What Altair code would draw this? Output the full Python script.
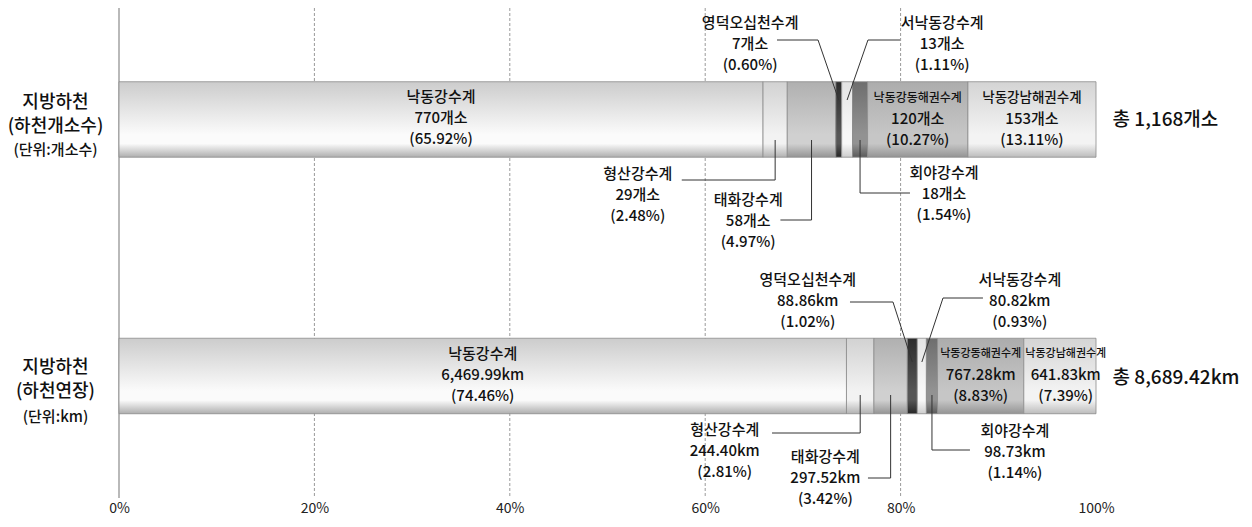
import altair as alt
import pandas as pd

# ---------------- data ----------------
rows = ["하천개소수", "하천연장"]
segments = ["낙동강수계", "형산강수계", "태화강수계", "영덕오십천수계",
            "서낙동강수계", "회야강수계", "낙동강동해권수계", "낙동강남해권수계"]
count_values = [770, 29, 58, 7, 13, 18, 120, 153]
count_pcts = [65.92, 2.48, 4.97, 0.60, 1.11, 1.54, 10.27, 13.11]
length_values = [6469.99, 244.40, 297.52, 88.86, 80.82, 98.73, 767.28, 641.83]
length_pcts = [74.46, 2.81, 3.42, 1.02, 0.93, 1.14, 8.83, 7.39]
total_labels = ["총 1,168개소", "총 8,689.42km"]
row_titles = [["지방하천", "(하천개소수)", "(단위:개소수)"],
              ["지방하천", "(하천연장)", "(단위:km)"]]
tick_values = [0, 20, 40, 60, 80, 100]
grid_values = [20, 40, 60, 80]

FONT = "Noto Sans CJK KR"
TXT = "#111111"
WEIGHT = 500
PLOT_H = 490
TOP = 8

# ---------------- styles / layout ----------------
seg_gradients = {
    "낙동강수계": ("#cccccc", "#fbfbfb", "#aeaeae"),
    "형산강수계": ("#d2d2d2", "#f2f2f2", "#b2b2b2"),
    "태화강수계": ("#b0b0b0", "#d0d0d0", "#949494"),
    "영덕오십천수계": ("#2c2c2c", "#565656", "#262626"),
    "서낙동강수계": ("#e4e4e4", "#f8f8f8", "#cdcdcd"),
    "회야강수계": ("#6e6e6e", "#929292", "#5a5a5a"),
    "낙동강동해권수계": ("#acacac", "#c6c6c6", "#949494"),
    "낙동강남해권수계": ("#d4d4d4", "#f3f3f3", "#bcbcbc"),
}

# label centre (x in %, y in page px), leader start x, elbow x (None = vertical at segment middle)
callout_layout = [
    {
        "형산강수계": dict(lx=53.1, ly=195, sx=57.6, hy=180, ex=None, ey=140),
        "태화강수계": dict(lx=64.4, ly=221, sx=67.7, hy=220, ex=None, ey=140),
        "영덕오십천수계": dict(lx=64.6, ly=44, sx=67.35, hy=40, ex=71.55, ey=100),
        "서낙동강수계": dict(lx=84.25, ly=44, sx=79.94, hy=40, ex=76.66, ey=100),
        "회야강수계": dict(lx=84.44, ly=194, sx=80.96, hy=193, ex=None, ey=140),
    },
    {
        "형산강수계": dict(lx=62.0, ly=451, sx=66.84, hy=433, ex=None, ey=395),
        "태화강수계": dict(lx=72.3, ly=478, sx=76.66, hy=478, ex=None, ey=395),
        "영덕오십천수계": dict(lx=70.5, ly=301, sx=74.82, hy=302, ex=79.22, ey=362),
        "서낙동강수계": dict(lx=92.2, ly=301, sx=88.43, hy=298, ex=84.34, ey=362),
        "회야강수계": dict(lx=91.7, ly=452, sx=87.1, hy=450, ex=None, ey=395),
    },
]
inside_layout = [
    {"낙동강수계": dict(dx=0, cy=118, ns=15),
     "낙동강동해권수계": dict(dx=0, cy=119, ns=12),
     "낙동강남해권수계": dict(dx=0, cy=119, ns=13.5)},
    {"낙동강수계": dict(dx=0, cy=375, ns=15),
     "낙동강동해권수계": dict(dx=0, cy=375, ns=11),
     "낙동강남해권수계": dict(dx=0.6, cy=375, ns=11)},
]
title_layout = [dict(x=-6.5, ys=[103, 127, 150]), dict(x=-6.5, ys=[368, 392, 417])]
title_sizes = [18, 18, 15]
total_layout = [dict(x=101.7, y=120), dict(x=101.7, y=378)]

# ---------------- build tables ----------------
bar_rows = []
text_rows = []
line_rows = []
title_rows = []
total_rows = []

series = [(count_values, count_pcts, lambda v: f"{v}개소"),
          (length_values, length_pcts, lambda v: f"{v:,.2f}km")]

for r, (vals, pcts, fmt) in enumerate(series):
    start = 0.0
    for seg, v, p in zip(segments, vals, pcts):
        end = start + p
        mid = (start + end) / 2
        bar_rows.append({"row": rows[r], "seg": seg, "start": start, "end": end})
        lines = [seg, fmt(v), f"({p:.2f}%)"]
        if seg in inside_layout[r]:
            L = inside_layout[r][seg]
            sizes = [L["ns"], 15, 15]
            for k in range(3):
                text_rows.append({"x": mid + L["dx"], "y": L["cy"] + (k - 1) * 21,
                                  "t": lines[k], "s": sizes[k]})
        else:
            L = callout_layout[r][seg]
            for k in range(3):
                text_rows.append({"x": L["lx"], "y": L["ly"] + (k - 1) * 21,
                                  "t": lines[k], "s": 15})
            ex = mid if L["ex"] is None else L["ex"]
            line_rows.append({"x": L["sx"], "x2": ex, "y": L["hy"], "y2": L["hy"]})
            line_rows.append({"x": ex, "x2": mid, "y": L["hy"], "y2": L["ey"]})
        start = end
    for k, t in enumerate(row_titles[r]):
        title_rows.append({"x": title_layout[r]["x"], "y": title_layout[r]["ys"][k],
                           "t": t, "s": title_sizes[k]})
    total_rows.append({"x": total_layout[r]["x"], "y": total_layout[r]["y"], "t": total_labels[r]})

bars = pd.DataFrame(bar_rows)
texts = pd.DataFrame(text_rows)
leaders = pd.DataFrame(line_rows)
titles = pd.DataFrame(title_rows)
totals = pd.DataFrame(total_rows)
grid = pd.DataFrame({"v": grid_values})
zero = pd.DataFrame({"v": [0]})

xscale = alt.Scale(domain=[0, 100], nice=False, zero=False)
xaxis = alt.Axis(values=tick_values, labelExpr="datum.value + '%'", grid=False,
                 domain=False, ticks=False, labelFontSize=14, labelFont=FONT,
                 labelColor="#222222", labelPadding=3, title=None, labelFlush=False,
                 labelOverlap=False)
yscale_px = alt.Scale(domain=[TOP, TOP + PLOT_H], range=[0, PLOT_H], nice=False, zero=False)
yband = alt.Scale(domain=rows, paddingInner=0.7057, paddingOuter=0.308, align=0.4667)


def X(field):
    return alt.X(field, type="quantitative", scale=xscale, axis=xaxis, title=None)


# ---------------- layers ----------------
grid_layer = alt.Chart(grid).mark_rule(color="#9a9a9a", strokeDash=[3, 2], strokeWidth=1).encode(
    x=X("v")
)
zero_layer = alt.Chart(zero).mark_rule(color="#8a8a8a", strokeWidth=1.2).encode(
    x=X("v")
)

bar_layers = []
for seg in segments:
    top, mid, bot = seg_gradients[seg]
    grad = alt.Gradient(
        gradient="linear",
        stops=[alt.GradientStop(color=top, offset=0),
               alt.GradientStop(color=mid, offset=0.7),
               alt.GradientStop(color=mid, offset=0.82),
               alt.GradientStop(color=bot, offset=1)],
        x1=0, x2=0, y1=0, y2=1,
    )
    bar_layers.append(
        alt.Chart(bars).transform_filter(alt.datum.seg == seg)
        .mark_bar(color=grad, stroke="#8c8c8c", strokeWidth=0.8)
        .encode(
            x=X("start"),
            x2="end:Q",
            y=alt.Y("row:N", scale=yband, axis=None),
        )
    )

leader_layer = alt.Chart(leaders).mark_rule(color="#333333", strokeWidth=1).encode(
    x=X("x"), x2="x2:Q",
    y=alt.Y("y:Q", scale=yscale_px, axis=None), y2="y2:Q",
)

text_layer = alt.Chart(texts).mark_text(font=FONT, color=TXT, fontWeight=WEIGHT,
                                        baseline="middle", align="center").encode(
    x=X("x"),
    y=alt.Y("y:Q", scale=yscale_px, axis=None),
    text="t:N",
    size=alt.Size("s:Q", scale=None, legend=None),
)

title_layer = alt.Chart(titles).mark_text(font=FONT, color=TXT, fontWeight=WEIGHT,
                                          baseline="middle", align="center").encode(
    x=X("x"),
    y=alt.Y("y:Q", scale=yscale_px, axis=None),
    text="t:N",
    size=alt.Size("s:Q", scale=None, legend=None),
)

total_layer = alt.Chart(totals).mark_text(font=FONT, color=TXT, fontWeight=WEIGHT, baseline="middle",
                                          align="left", fontSize=19).encode(
    x=X("x"),
    y=alt.Y("y:Q", scale=yscale_px, axis=None),
    text="t:N",
)

chart = alt.layer(
    grid_layer, zero_layer, *bar_layers, leader_layer, text_layer, title_layer, total_layer
).resolve_scale(
    y="independent"
).properties(
    width=977, height=PLOT_H,
    padding={"left": 111, "top": 0, "right": 148, "bottom": 511 - PLOT_H},
    autosize="none",
    background="white",
).configure_view(stroke=None)

chart.save("out.html", embed_options={"renderer": "svg", "actions": False})
